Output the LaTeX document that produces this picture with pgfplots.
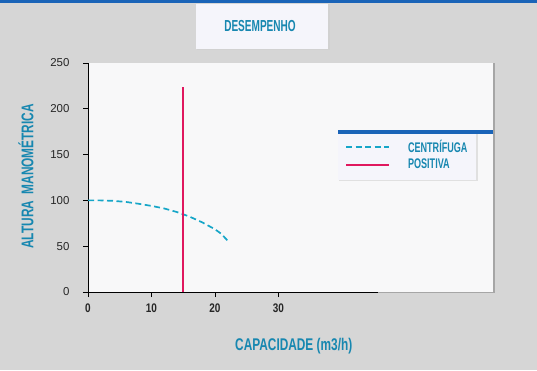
\documentclass[border=0pt]{standalone}
\usepackage{pgfplots}
\pgfplotsset{compat=1.18}
\usepackage{fontspec}
\setmainfont{Liberation Sans}
\newfontfamily\condfont[FakeStretch=0.63]{Liberation Sans Bold}
\newfontfamily\labfont[FakeStretch=0.7]{Liberation Sans Bold}
\newfontfamily\legfont[FakeStretch=0.65]{Liberation Sans Bold}
\newfontfamily\xtickfont[FakeStretch=0.8]{Liberation Sans Bold}
\newfontfamily\tickfont{Liberation Sans}
\definecolor{bggray}{HTML}{D6D6D6}
\definecolor{plotwhite}{HTML}{F8F8F9}
\definecolor{boxwhite}{HTML}{F5F5FB}
\definecolor{stripe}{HTML}{1A64B8}
\definecolor{labtext}{HTML}{1787B0}
\definecolor{cyancurve}{HTML}{16A6C8}
\definecolor{posred}{HTML}{E0185E}
\begin{document}
\begin{tikzpicture}[x=1bp,y=1bp]
\fill[bggray] (0,0) rectangle (537,370);
\fill[stripe] (0,366.5) rectangle (537,370);
% title box
\fill[black!18] (197,320) rectangle (329.5,366);
\fill[boxwhite] (196,321) rectangle (328,366);
\node[text=labtext,font=\condfont\fontsize{16}{16}\selectfont] at (260,344) {DESEMPENHO};
% plot area
\fill[black!35] (88,77.5) rectangle (494.5,307);
\fill[plotwhite] (88,78) rectangle (493,307);
% legend box and blue bar
\fill[black!12] (339,189) rectangle (477.5,237);
\fill[boxwhite] (338,190) rectangle (476,237);
\fill[stripe] (338,236.5) rectangle (493,240);
\begin{axis}[
  at={(88bp,78bp)}, anchor=south west,
  scale only axis, width=405bp, height=229bp,
  xmin=0, xmax=63.8, ymin=0, ymax=250,
  axis line style={draw=none},
  tick pos=left, tick align=outside,
  major tick length=5bp,
  tick style={black, line width=0.8pt},
  xtick={0,10,20,30}, ytick={0,50,100,150,200,250},
  /pgf/number format/assume math mode=true,
  xticklabel style={font=\xtickfont\fontsize{12.5}{12}\selectfont, text=black!85, yshift=-3bp},
  yticklabel style={font=\tickfont\fontsize{11.5}{11}\selectfont, text=black!85, xshift=-10bp},
  xlabel={CAPACIDADE (m3/h)},
  xlabel style={font=\labfont\fontsize{17}{17}\selectfont, text=labtext, at={(axis description cs:0.508,0)}, anchor=center, yshift=-54bp},
  ylabel={ALTURA\ \ MANOMÉTRICA},
  ylabel style={font=\labfont\fontsize{17}{17}\selectfont, text=labtext, at={(axis description cs:0,0.505)}, anchor=center, yshift=62bp},
  clip=false,
  legend style={draw=none, fill=none, at={(axis description cs:0.635,0.672)}, anchor=north west,
    font=\legfont\fontsize{14}{14}\selectfont, text=labtext,
    row sep=1bp, inner sep=0pt,
    /tikz/every odd column/.append style={column sep=16bp}},
  legend cell align=left,
  legend image code/.code={\draw[#1] (0bp,0bp) -- (43bp,0bp);},
]
% axis lines
\draw[black, line width=1pt] (axis cs:0,0) -- (axis cs:0,250);
\draw[black, line width=1pt] (axis cs:-0.8,0) -- (axis cs:45.7,0);
\addplot[color=cyancurve, line width=1.7pt, dash pattern=on 6bp off 3.5bp] coordinates {
(0,100) (2,100) (4,99.5) (6,98.3) (8,96.3) (10,94) (12,91.2) (14,87.3) (16,82.3) (18,76) (20,68.5) (21,63.5) (22.2,54.5)
};
\addlegendentry{CENTRÍFUGA}
\addplot[draw=posred, line width=1.5pt, solid] table[x=x, y=y] {
x y
15 0
15 110
15 223.5
};
\addlegendentry{POSITIVA}
\end{axis}
\end{tikzpicture}
\end{document}
